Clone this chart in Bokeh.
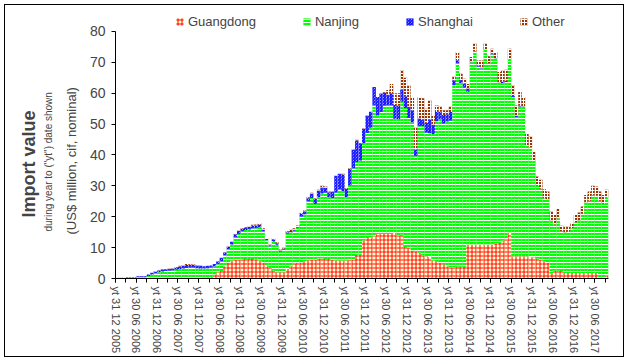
from math import pi
from bokeh.plotting import figure
from bokeh.models import ColumnDataSource, Range1d, FixedTicker, Legend, Title
from bokeh.embed import file_html
from bokeh.resources import INLINE

series = ["Guangdong", "Nanjing", "Shanghai", "Other"]

guangdong = [0, 0, 0, 0, 0, 0, 0, 0, 0, 0, 0, 0, 0, 0, 0, 0, 0, 0, 0, 0,
             0, 0, 0, 0, 0, 0.3, 0.4, 0.5, 1.3, 2.0, 2.4, 4.0, 5.0, 5.8, 6.1, 6.1, 6.2, 6.3, 6.3, 6.3,
             6.2, 5.8, 5.0, 4.2, 3.4, 2.5, 2.0, 2.0, 2.0, 3.1, 4.0, 4.8, 5.0, 5.2, 5.6, 5.9, 6.1, 6.1, 6.5, 6.5,
             6.3, 6.3, 6.0, 5.8, 5.8, 5.8, 5.8, 6.0, 6.1, 7.7, 7.7, 12.3, 13.1, 13.3, 13.7, 14.4, 14.4, 14.4, 14.4, 14.4,
             14.7, 14.0, 14.2, 10.2, 10.0, 9.0, 8.6, 8.3, 7.4, 7.2, 7.0, 5.8, 5.4, 5.0, 4.6, 4.0, 3.6, 3.6, 3.8, 3.8,
             3.8, 11.0, 11.0, 11.0, 11.0, 11.0, 11.0, 11.0, 11.0, 11.3, 11.5, 12.2, 12.6, 14.9, 7.2, 7.2, 7.2, 7.2, 7.2, 7.0,
             6.8, 6.4, 6.1, 5.4, 5.0, 1.5, 2.5, 2.5, 2.4, 1.8, 1.8, 1.8, 1.8, 1.8, 1.8, 1.8, 1.8, 1.8, 1.8, 0.2,
             0.2, 1.0]
nanjing = [0.4, 0.4, 0.4, 0.1, 0.1, 0.1, 0.4, 0.4, 0.4, 0.8, 1.3, 1.7, 2.0, 2.3, 2.4, 2.5, 2.6, 2.8, 3.0, 3.2,
           3.4, 3.5, 3.5, 3.3, 3.2, 2.9, 2.9, 3.0, 2.6, 2.6, 3.3, 3.6, 4.5, 5.2, 7.2, 8.3, 9.0, 9.4, 9.6, 9.9,
           10.1, 10.9, 10.2, 8.2, 7.0, 9.5, 8.9, 6.7, 7.3, 11.4, 11.0, 10.7, 11.4, 14.8, 15.2, 19.0, 20.0, 18.0, 19.8, 21.0,
           21.5, 20.1, 20.0, 22.0, 23.0, 22.5, 20.5, 24.0, 29.5, 30.0, 30.5, 31.4, 34.0, 35.5, 42.3, 38.4, 39.5, 41.5, 41.6, 41.6,
           37.0, 37.5, 43.0, 45.0, 42.0, 41.5, 31.0, 41.0, 42.0, 40.0, 40.0, 41.0, 45.5, 46.5, 45.5, 46.8, 47.5, 59.0, 65.8, 59.4,
           58.0, 49.5, 59.0, 62.5, 57.6, 57.0, 63.0, 58.5, 61.5, 60.0, 51.6, 51.0, 51.0, 56.0, 51.5, 45.0, 48.5, 48.5, 36.0, 35.5,
           31.2, 23.6, 23.0, 20.5, 20.7, 17.2, 15.0, 17.0, 13.0, 13.2, 13.3, 14.5, 16.3, 17.0, 19.2, 22.7, 23.4, 25.2, 25.0, 25.0,
           24.0, 25.2]
shanghai = [0, 0, 0, 0.2, 0.2, 0.2, 0.3, 0.3, 0.35, 0.5, 0.6, 0.6, 0.6, 0.6, 0.6, 0.6, 0.6, 0.7, 0.9, 0.9,
            1.0, 0.9, 0.9, 0.9, 0.9, 0.8, 0.8, 0.7, 0.8, 0.9, 0.9, 0.8, 0.8, 0.9, 1.0, 1.0, 0.9, 0.8, 0.8, 0.9,
            0.9, 0.8, 0.6, 0.4, 0.3, 0.6, 0.5, 0.4, 0.4, 0.5, 0.4, 0.3, 0.3, 1.0, 1.0, 1.1, 1.4, 1.7, 2.2, 2.0,
            1.6, 1.5, 2.0, 5.5, 5.0, 5.4, 2.7, 5.5, 6.0, 7.0, 5.6, 4.8, 5.7, 5.2, 6.0, 6.0, 6.0, 4.3, 3.5, 4.0,
            4.5, 4.5, 4.0, 3.8, 3.6, 4.0, 2.2, 2.5, 2.0, 3.2, 4.5, 3.0, 3.0, 2.5, 2.8, 2.4, 2.8, 1.6, 1.1, 1.1,
            1.3, 1.0, 0.2, 0.2, 0.4, 0.2, 0.1, 0.2, 0.3, 0.1, 0.3, 0.5, 0.4, 0.1, 0.4, 0.5, 0.2, 0.1, 0, 0,
            0, 0, 0, 0, 0, 0, 0, 0, 0, 0, 0, 0, 0, 0, 0, 0, 0, 0, 0, 0,
            0, 0]
other = [0, 0, 0, 0, 0, 0, 0, 0, 0, 0, 0, 0.1, 0.1, 0.1, 0.1, 0.1, 0.1, 0.2, 0.2, 0.2,
         0.3, 0.2, 0.1, 0.1, 0.1, 0, 0, 0, 0, 0.1, 0.1, 0.1, 0.1, 0.1, 0.1, 0.1, 0.2, 0.2, 0.2, 0.3,
         0.3, 0.5, 0.5, 0.3, 0.3, 0.5, 0.3, 0.3, 0.3, 0.3, 0.4, 0.5, 0.5, 0.2, 0.2, 0.3, 0.3, 0.2, 0.2, 0.5,
         0.4, 0.3, 0.2, 0.2, 0.1, 0.2, 0.2, 0.2, 0.2, 0.2, 0.1, 0.1, 0.1, 0, 0, 0, 0, 0.2, 1.5, 3.0,
         3.8, 4.0, 6.2, 6.0, 7.0, 4.3, 7.2, 7.0, 7.0, 4.6, 6.2, 3.1, 2.1, 1.8, 1.6, 1.3, 1.7, 1.1, 2.6, 2.0,
         1.6, 1.5, 1.5, 2.3, 1.6, 2.4, 1.9, 2.3, 1.6, 1.9, 3.5, 3.7, 3.6, 3.4, 3.5, 3.3, 4.5, 3.0, 3.6, 3.5,
         3.0, 3.0, 2.9, 3.0, 2.5, 3.0, 3.1, 3.0, 1.7, 1.9, 1.8, 1.7, 2.5, 2.6, 2.3, 2.5, 3.0, 3.0, 3.0, 3.0,
         2.8, 2.5]

tick_labels = ["yt 31 12 2005", "yt 30 06 2006", "yt 31 12 2006", "yt 30 06 2007",
               "yt 31 12 2007", "yt 30 06 2008", "yt 31 12 2008", "yt 30 06 2009",
               "yt 31 12 2009", "yt 30 06 2010", "yt 31 12 2010", "yt 30 06 2011",
               "yt 31 12 2011", "yt 30 06 2012", "yt 31 12 2012", "yt 30 06 2013",
               "yt 31 12 2013", "yt 30 06 2014", "yt 31 12 2014", "yt 30 06 2015",
               "yt 31 12 2015", "yt 30 06 2016", "yt 31 12 2016", "yt 30 06 2017"]

n = len(guangdong)
source = ColumnDataSource(dict(
    x=[i + 0.5 for i in range(n)],
    Guangdong=guangdong, Nanjing=nanjing, Shanghai=shanghai, Other=other,
))

FONT = "Liberation Sans"
Y_MAX = 80
# frame extends above the 80 line to leave room for the legend (axis bounded to 0-80)
Y_TOP = Y_MAX * 267 / 248

p = figure(width=618, height=351, output_backend="svg", toolbar_location=None,
           x_range=Range1d(0, n), y_range=Range1d(0, Y_TOP),
           min_border_left=110, min_border_right=15, min_border_top=7, min_border_bottom=77)
p.styles = {"margin-left": "5px", "margin-top": "5px",
            "outline": "1px solid black", "outline-offset": "0px"}
p.outline_line_color = None
p.xgrid.visible = False
p.ygrid.visible = False
p.background_fill_color = "white"
p.border_fill_color = "white"

renderers = p.vbar_stack(series, x="x", width=1.0, source=source,
                         fill_color=["#FFFFCC", "#00FF00", "white", "#993300"],
                         hatch_color=["#FF0000", "white", "#0000FF", "white"],
                         hatch_pattern=["+", "-", "\\", "+"],
                         hatch_scale=[4, 3, 3, 3],
                         hatch_weight=[1, 1, 1.2, 1],
                         line_color=None)

legend = Legend(items=[(s, [r]) for s, r in zip(series, renderers)],
                orientation="horizontal", location=(60, 249),
                background_fill_alpha=0, border_line_color=None,
                padding=0, margin=0, spacing=46, label_standoff=4,
                glyph_width=9, glyph_height=9, label_height=14,
                label_text_font=FONT, label_text_font_size="13px")
p.add_layout(legend, "center")

# x axis
ticks = list(range(0, n, 6))
p.xaxis.ticker = FixedTicker(ticks=ticks, minor_ticks=list(range(0, n, 3)))
p.xaxis.major_label_overrides = {t: lab for t, lab in zip(ticks, tick_labels)}
p.xaxis.major_label_orientation = -pi / 2
p.xaxis.major_label_text_font = FONT
p.xaxis.major_label_text_font_size = "11px"
p.xaxis.major_label_standoff = 4
p.xaxis.major_tick_in = 0
p.xaxis.major_tick_out = 4
p.xaxis.minor_tick_in = 0
p.xaxis.minor_tick_out = 4
p.xaxis.axis_line_color = "black"
p.xaxis.major_tick_line_color = "black"
p.xaxis.minor_tick_line_color = "black"

# y axis
p.yaxis.ticker = FixedTicker(ticks=list(range(0, Y_MAX + 1, 10)))
p.yaxis.bounds = (0, Y_MAX)
p.yaxis.minor_tick_line_color = None
p.yaxis.major_tick_in = 0
p.yaxis.major_tick_out = 4
p.yaxis.major_label_standoff = 6
p.yaxis.major_label_text_font = FONT
p.yaxis.major_label_text_font_size = "14px"
p.yaxis.axis_line_color = "black"

p.add_layout(Title(text="(US$ million, cif, nominal)", align="left", standoff=15, offset=44,
                   text_font=FONT, text_font_size="13px", text_font_style="normal"), "left")
p.add_layout(Title(text='during year to ("yt") date shown', align="left", standoff=1, offset=47,
                   text_font=FONT, text_font_size="10px", text_font_style="normal"), "left")
p.add_layout(Title(text="Import value", align="left", standoff=3, offset=61,
                   text_font=FONT, text_font_size="18px", text_font_style="bold"), "left")

open("out.html", "w").write(file_html(p, INLINE))
